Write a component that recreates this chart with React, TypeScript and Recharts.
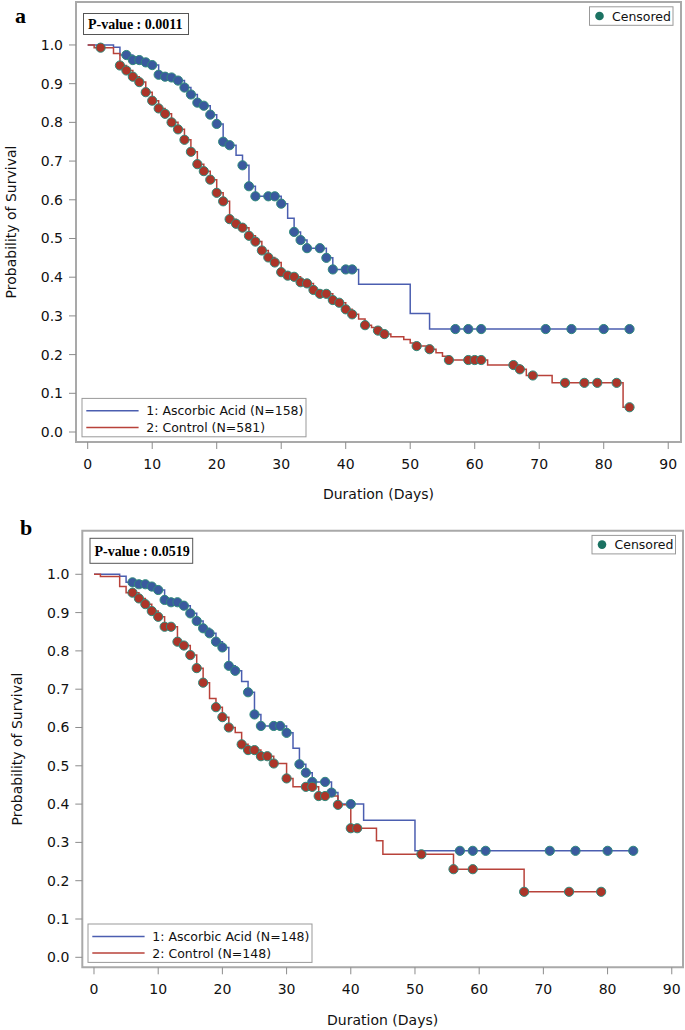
import { ComposedChart, Line, Scatter, XAxis, YAxis, ReferenceArea } from 'recharts'

// axis ticks shared by both panels
const xTicks = [0, 10, 20, 30, 40, 50, 60, 70, 80, 90]
const yTicks = [0, 0.1, 0.2, 0.3, 0.4, 0.5, 0.6, 0.7, 0.8, 0.9, 1.0]

// panel a: step points [day, survival] and censored marks
const aAscorbicSteps: [number, number][] = [
  [0, 1], [4, 0.994], [5, 0.974], [7, 0.961], [9, 0.955], [10, 0.948], [11, 0.923], [12, 0.918],
  [13, 0.916], [14, 0.908], [15, 0.89], [16, 0.872], [17, 0.851], [18, 0.843], [19, 0.82], [20, 0.796],
  [21, 0.75], [22, 0.741], [23, 0.715], [24, 0.689], [25, 0.635], [26, 0.609], [30, 0.59], [31, 0.552],
  [32, 0.517], [33, 0.496], [34, 0.475], [37, 0.45], [38, 0.42], [42, 0.382], [50, 0.306], [53, 0.266],
  [84, 0.266],
]
const aAscorbicCensored: [number, number][] = [
  [6, 0.974], [7, 0.961], [8, 0.961], [9, 0.955], [10, 0.948], [11, 0.923], [12, 0.918], [13, 0.916],
  [14, 0.908], [15, 0.89], [16, 0.872], [17, 0.851], [18, 0.843], [19, 0.82], [20, 0.796], [21, 0.75],
  [22, 0.741], [24, 0.689], [25, 0.635], [26, 0.609], [28, 0.609], [29, 0.609], [30, 0.59], [32, 0.517],
  [33, 0.496], [34, 0.475], [36, 0.475], [37, 0.45], [38, 0.42], [40, 0.42], [41, 0.42], [57, 0.266],
  [59, 0.266], [61, 0.266], [71, 0.266], [75, 0.266], [80, 0.266], [84, 0.266],
]
const aControlSteps: [number, number][] = [
  [0, 1], [1, 0.993], [4, 0.978], [5, 0.947], [6, 0.934], [7, 0.918], [8, 0.904], [9, 0.878],
  [10, 0.856], [11, 0.836], [12, 0.822], [13, 0.8], [14, 0.782], [15, 0.755], [16, 0.724], [17, 0.692],
  [18, 0.674], [19, 0.652], [20, 0.618], [21, 0.596], [22, 0.55], [23, 0.538], [24, 0.528], [25, 0.507],
  [26, 0.492], [27, 0.469], [28, 0.451], [29, 0.438], [30, 0.413], [31, 0.404], [32, 0.401], [33, 0.387],
  [34, 0.384], [35, 0.367], [36, 0.357], [38, 0.341], [39, 0.334], [40, 0.317], [41, 0.304], [42, 0.292],
  [43, 0.276], [44, 0.27], [45, 0.262], [46, 0.253], [47, 0.246], [49, 0.239], [50, 0.23], [51, 0.222],
  [53, 0.214], [54, 0.205], [55, 0.196], [56, 0.186], [62, 0.173], [67, 0.162], [68, 0.146], [72, 0.127],
  [83, 0.064], [84, 0.064],
]
const aControlCensored: [number, number][] = [
  [2, 0.993], [5, 0.947], [6, 0.934], [7, 0.918], [8, 0.904], [9, 0.878], [10, 0.856], [11, 0.836],
  [12, 0.822], [13, 0.8], [14, 0.782], [15, 0.755], [16, 0.724], [17, 0.692], [18, 0.674], [19, 0.652],
  [20, 0.618], [21, 0.596], [22, 0.55], [23, 0.538], [24, 0.528], [25, 0.507], [26, 0.492], [27, 0.469],
  [28, 0.451], [29, 0.438], [30, 0.413], [31, 0.404], [32, 0.401], [33, 0.387], [34, 0.384], [35, 0.367],
  [36, 0.357], [37, 0.357], [38, 0.341], [39, 0.334], [40, 0.317], [41, 0.304], [43, 0.276], [45, 0.262],
  [46, 0.253], [51, 0.222], [53, 0.214], [56, 0.186], [59, 0.186], [60, 0.186], [61, 0.186], [66, 0.173],
  [67, 0.162], [69, 0.146], [74, 0.127], [77, 0.127], [79, 0.127], [82, 0.127], [84, 0.064],
]

// panel b
const bAscorbicSteps: [number, number][] = [
  [0, 1], [4, 0.995], [5, 0.979], [7, 0.974], [9, 0.968], [10, 0.959], [11, 0.933], [12, 0.927],
  [14, 0.918], [15, 0.898], [16, 0.878], [17, 0.859], [18, 0.846], [19, 0.824], [20, 0.809], [21, 0.761],
  [22, 0.748], [23, 0.72], [24, 0.692], [25, 0.634], [26, 0.604], [30, 0.586], [31, 0.546], [32, 0.504],
  [33, 0.482], [34, 0.458], [37, 0.43], [38, 0.4], [42, 0.358], [50, 0.278], [84, 0.278],
]
const bAscorbicCensored: [number, number][] = [
  [6, 0.979], [7, 0.974], [8, 0.974], [9, 0.968], [10, 0.959], [11, 0.933], [12, 0.927], [13, 0.927],
  [14, 0.918], [15, 0.898], [16, 0.878], [17, 0.859], [18, 0.846], [19, 0.824], [20, 0.809], [21, 0.761],
  [22, 0.748], [24, 0.692], [25, 0.634], [26, 0.604], [28, 0.604], [29, 0.604], [30, 0.586], [32, 0.504],
  [33, 0.482], [34, 0.458], [36, 0.458], [37, 0.43], [40, 0.4], [57, 0.278], [59, 0.278], [61, 0.278],
  [71, 0.278], [75, 0.278], [80, 0.278], [84, 0.278],
]
const bControlSteps: [number, number][] = [
  [0, 1], [1, 0.994], [4, 0.968], [5, 0.952], [7, 0.937], [8, 0.922], [9, 0.904], [10, 0.889],
  [11, 0.863], [13, 0.824], [14, 0.814], [15, 0.789], [16, 0.755], [17, 0.717], [18, 0.676], [19, 0.653],
  [20, 0.627], [21, 0.6], [22, 0.587], [23, 0.556], [24, 0.541], [26, 0.525], [28, 0.506], [30, 0.467],
  [31, 0.445], [35, 0.421], [38, 0.398], [40, 0.337], [44, 0.304], [45, 0.269], [56, 0.23], [67, 0.171],
  [79, 0.171],
]
const bControlCensored: [number, number][] = [
  [6, 0.952], [7, 0.937], [8, 0.922], [9, 0.904], [10, 0.889], [11, 0.863], [12, 0.863], [13, 0.824],
  [14, 0.814], [15, 0.789], [16, 0.755], [17, 0.717], [19, 0.653], [20, 0.627], [21, 0.6], [23, 0.556],
  [24, 0.541], [25, 0.541], [26, 0.525], [27, 0.525], [28, 0.506], [30, 0.467], [33, 0.445], [34, 0.445],
  [35, 0.421], [36, 0.421], [38, 0.398], [40, 0.337], [41, 0.337], [51, 0.269], [56, 0.23], [59, 0.23],
  [67, 0.171], [74, 0.171], [79, 0.171],
]

const aGroupLabels = ['1: Ascorbic Acid (N=158)', '2: Control (N=581)']
const bGroupLabels = ['1: Ascorbic Acid (N=148)', '2: Control (N=148)']
const pValueLabels = ['P-value : 0.0011', 'P-value : 0.0519']

const BLUE_LINE = '#4b5eb0'
const RED_LINE = '#b8423a'
const BLUE_DOT = '#3a5a9e'
const RED_DOT = '#ac3529'
const DOT_EDGE = '#2f8a7c'
const FRAME = '#a9a9a9'

const toRows = (pts: [number, number][]) => pts.map(([t, s]) => ({ t, s }))

const makeDot = (fill: string) => (props: any) => (
  <circle cx={props.cx} cy={props.cy} r={4.6} fill={fill} stroke={DOT_EDGE} strokeWidth={1} />
)

function Panel({ cfg }: { cfg: any }) {
  const { width, height, margin, yAxisWidth, xAxisHeight, xDomain, yDomain } = cfg
  return (
    <ComposedChart width={width} height={height} margin={margin}>
      <XAxis
        type="number"
        dataKey="t"
        domain={xDomain}
        ticks={xTicks}
        allowDataOverflow
        axisLine={false}
        tickLine={{ stroke: '#8c8c8c' }}
        tickSize={7}
        tickMargin={10}
        height={xAxisHeight}
        tick={{ fontSize: 14, fill: '#111' }}
        label={{ value: 'Duration (Days)', position: 'insideBottom', offset: cfg.xLabelOffset, fontSize: 14, fill: '#111' }}
      />
      <YAxis
        type="number"
        dataKey="s"
        domain={yDomain}
        ticks={yTicks}
        allowDataOverflow
        axisLine={false}
        tickLine={{ stroke: '#8c8c8c' }}
        tickSize={7}
        tickMargin={6}
        width={yAxisWidth}
        tickFormatter={(v: number) => v.toFixed(1)}
        tick={{ fontSize: 14, fill: '#111' }}
        label={{
          value: 'Probability of Survival',
          angle: -90,
          position: 'insideLeft',
          offset: cfg.yLabelX,
          fontSize: 14,
          fill: '#111',
          style: { textAnchor: 'middle' },
        }}
      />
      <ReferenceArea
        x1={xDomain[0]}
        x2={xDomain[1]}
        y1={yDomain[0]}
        y2={yDomain[1]}
        fill="none"
        fillOpacity={0}
        stroke={FRAME}
        strokeWidth={2}
        ifOverflow="visible"
      />
      <Line data={toRows(cfg.ascorbic)} dataKey="s" type="stepAfter" stroke={BLUE_LINE} strokeWidth={1.5} dot={false} activeDot={false} isAnimationActive={false} />
      <Line data={toRows(cfg.control)} dataKey="s" type="stepAfter" stroke={RED_LINE} strokeWidth={1.5} dot={false} activeDot={false} isAnimationActive={false} />
      <Scatter data={toRows(cfg.ascorbicCens)} dataKey="s" shape={makeDot(BLUE_DOT)} isAnimationActive={false} />
      <Scatter data={toRows(cfg.controlCens)} dataKey="s" shape={makeDot(RED_DOT)} isAnimationActive={false} />

      {/* panel letter */}
      <text x={cfg.letter.x} y={cfg.letter.y} fontFamily="Liberation Serif" fontWeight="bold" fontSize={22} fill="#000">
        {cfg.letter.text}
      </text>

      {/* p-value box */}
      <rect x={cfg.pBox.x} y={cfg.pBox.y} width={cfg.pBox.w} height={cfg.pBox.h} fill="#fff" stroke="#555" strokeWidth={1} />
      <text x={cfg.pBox.x + 4.5} y={cfg.pBox.ty} fontFamily="Liberation Serif" fontWeight="bold" fontSize={14} fill="#000">
        {cfg.pValue}
      </text>

      {/* censored legend */}
      <rect x={cfg.cens.x} y={cfg.cens.y} width={83.5} height={18.5} fill="#fff" stroke="#999" strokeWidth={1} />
      <circle cx={cfg.cens.x + 10} cy={cfg.cens.y + 9.2} r={4.3} fill="#1b7262" />
      <text x={cfg.cens.x + 22.5} y={cfg.cens.y + 13.8} fontSize={12.5} fill="#111">Censored</text>

      {/* group legend */}
      <rect x={cfg.groups.x} y={cfg.groups.y} width={224} height={38.4} fill="#fff" stroke="#999" strokeWidth={1} />
      {cfg.groupLabels.map((label: string, i: number) => (
        <g key={label}>
          <line
            x1={cfg.groups.x + 4.3}
            x2={cfg.groups.x + 56.6}
            y1={cfg.groups.y + 12.4 + i * 16.6}
            y2={cfg.groups.y + 12.4 + i * 16.6}
            stroke={i === 0 ? BLUE_LINE : RED_LINE}
            strokeWidth={1.5}
          />
          <text x={cfg.groups.x + 64.3} y={cfg.groups.y + 17 + i * 16.8} fontSize={12.5} fill="#111">
            {label}
          </text>
        </g>
      ))}
    </ComposedChart>
  )
}

const panelA = {
  width: 685,
  height: 505,
  margin: { top: 2, right: 4, left: 0, bottom: 0 },
  yAxisWidth: 76,
  xAxisHeight: 63,
  xDomain: [-1.814, 91.98],
  yDomain: [-0.0258, 1.111],
  xLabelOffset: 6,
  yLabelX: 11,
  ascorbic: aAscorbicSteps,
  control: aControlSteps,
  ascorbicCens: aAscorbicCensored,
  controlCens: aControlCensored,
  letter: { text: 'a', x: 15, y: 23 },
  pBox: { x: 83.5, y: 13.5, w: 105, h: 21, ty: 28.8 },
  pValue: pValueLabels[0],
  cens: { x: 589.5, y: 6.8 },
  groups: { x: 82, y: 398.4 },
  groupLabels: aGroupLabels,
}

const panelB = {
  width: 685,
  height: 525,
  margin: { top: 25.7, right: 2, left: 0, bottom: 0 },
  yAxisWidth: 82.3,
  xAxisHeight: 62.7,
  xDomain: [-1.822, 91.75],
  yDomain: [-0.0261, 1.1138],
  xLabelOffset: 5.4,
  yLabelX: 17,
  ascorbic: bAscorbicSteps,
  control: bControlSteps,
  ascorbicCens: bAscorbicCensored,
  controlCens: bControlCensored,
  letter: { text: 'b', x: 20, y: 30 },
  pBox: { x: 90, y: 33.3, w: 102.7, h: 25, ty: 50.5 },
  pValue: pValueLabels[1],
  cens: { x: 592, y: 30.4 },
  groups: { x: 88, y: 419 },
  groupLabels: bGroupLabels,
}

export default function App() {
  return (
    <div style={{ position: 'relative', width: 685, height: 1030, fontFamily: '"DejaVu Sans", sans-serif', background: '#fff' }}>
      <style>{'body { margin: 0; }'}</style>
      <div style={{ position: 'absolute', left: 0, top: 0 }}>
        <Panel cfg={panelA} />
      </div>
      <div style={{ position: 'absolute', left: 0, top: 505 }}>
        <Panel cfg={panelB} />
      </div>
    </div>
  )
}
